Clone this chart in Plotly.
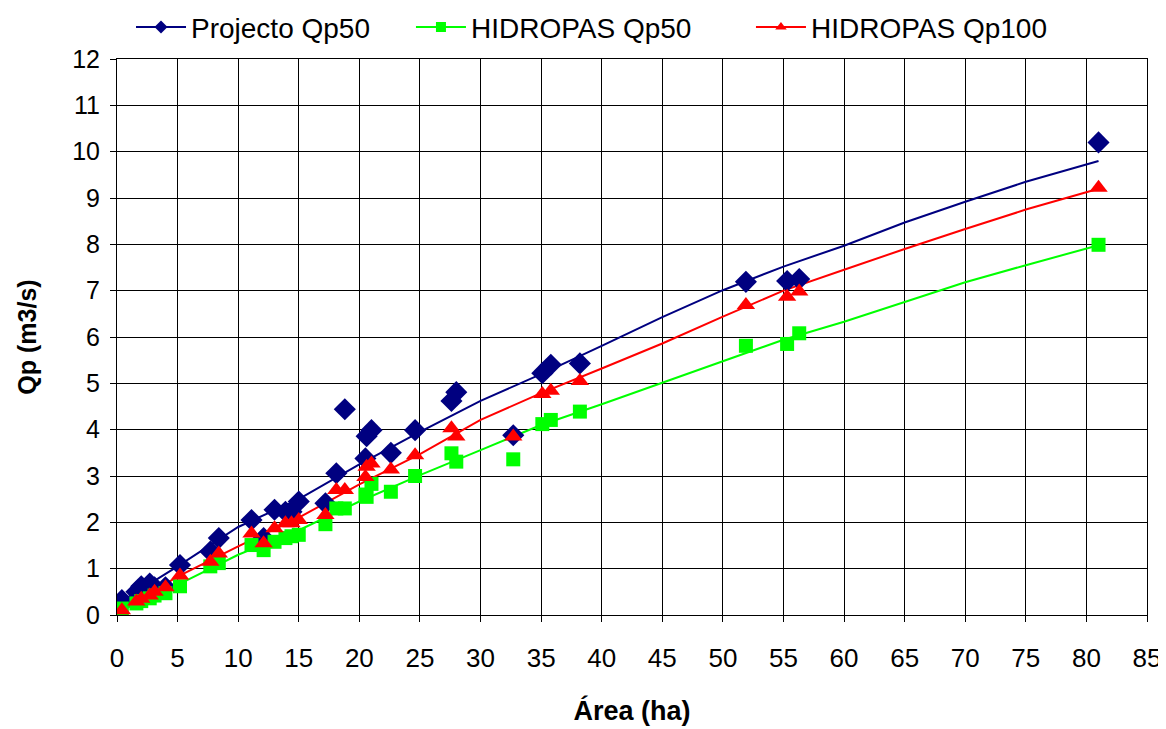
import plotly.graph_objects as go

# Catchment areas (ha) for the observed points
area = [0.4, 1.6, 2.0, 2.7, 3.1, 4.0, 5.2, 7.7, 8.4, 11.1, 12.1, 13.0, 13.9, 14.4, 15.0,
        17.2, 18.1, 18.8, 20.5, 20.6, 21.0, 22.6, 24.6, 27.6, 28.0, 32.7, 35.1, 35.8,
        38.2, 51.9, 55.3, 56.3, 81.0]

projecto_qp50 = [0.32, 0.50, 0.62, 0.68, 0.60, 0.60, 1.08, 1.37, 1.66, 2.05, 1.66, 2.27, 2.23,
                 2.23, 2.45, 2.41, 3.06, 4.44, 3.38, 3.86, 3.99, 3.50, 3.99, 4.62, 4.81, 3.88,
                 5.22, 5.40, 5.43, 7.19, 7.21, 7.25, 10.20]
hidropas_qp50 = [0.14, 0.25, 0.30, 0.36, 0.42, 0.47, 0.62, 1.05, 1.12, 1.51, 1.40, 1.58, 1.66,
                 1.70, 1.73, 1.96, 2.30, 2.30, 2.60, 2.55, 2.83, 2.66, 3.00, 3.49, 3.31, 3.36,
                 4.12, 4.21, 4.39, 5.81, 5.85, 6.08, 7.99]
hidropas_qp100 = [0.10, 0.29, 0.35, 0.42, 0.50, 0.60, 0.85, 1.15, 1.33, 1.76, 1.55, 1.87, 1.98,
                  1.98, 2.05, 2.16, 2.70, 2.70, 2.98, 3.20, 3.27, 3.14, 3.45, 4.03, 3.85, 3.85,
                  4.77, 4.84, 5.05, 6.69, 6.87, 6.98, 9.22]

# Fitted curves
curve_x = [0.4, 5, 10, 15, 20, 25, 30, 35, 40, 45, 50, 55, 60, 65, 70, 75, 81]
curve_projecto = [0.30, 1.05, 1.90, 2.50, 3.25, 3.95, 4.62, 5.20, 5.81, 6.43, 7.01, 7.52,
                  7.97, 8.47, 8.92, 9.35, 9.80]
curve_hid50 = [0.10, 0.65, 1.30, 1.83, 2.45, 3.02, 3.56, 4.10, 4.55, 5.01, 5.47, 5.94,
               6.33, 6.76, 7.18, 7.55, 7.98]
curve_hid100 = [0.10, 0.83, 1.48, 2.10, 2.82, 3.47, 4.21, 4.79, 5.32, 5.86, 6.44, 7.00,
                7.45, 7.90, 8.33, 8.75, 9.20]

series = [
    ("Projecto Qp50", projecto_qp50, curve_projecto, "#000080", "diamond", 17, "legend"),
    ("HIDROPAS Qp50", hidropas_qp50, curve_hid50, "#00FF00", "square", 14, "legend2"),
    ("HIDROPAS Qp100", hidropas_qp100, curve_hid100, "#FF0000", "triangle-up", 16, "legend3"),
]

fig = go.Figure()
for name, pts, curve, color, sym, size, lg in series:
    fig.add_trace(go.Scatter(x=curve_x, y=curve, mode="lines",
                             line=dict(color=color, width=2), showlegend=False,
                             hoverinfo="skip"))
for name, pts, curve, color, sym, size, lg in series:
    fig.add_trace(go.Scatter(x=area, y=pts, mode="markers", name=name,
                             marker=dict(symbol=sym, size=size, color=color),
                             showlegend=False))
for name, pts, curve, color, sym, size, lg in series:
    fig.add_trace(go.Scatter(x=[None], y=[None], mode="lines+markers", name=name,
                             legend=lg,
                             line=dict(color=color, width=2),
                             marker=dict(symbol=sym, size=10, color=color)))

fam = "Liberation Sans, Arial, sans-serif"


def leg(x):
    return dict(orientation="h", x=x, xanchor="left", y=1.012, yanchor="bottom",
                font=dict(family=fam, size=28), itemwidth=50,
                bgcolor="rgba(0,0,0,0)")


# the page body adds an 8 px offset; margins compensate for it
fig.update_layout(
    width=1166, height=729,
    paper_bgcolor="white", plot_bgcolor="white",
    margin=dict(l=109, r=27, t=51, b=122, autoexpand=False),
    font=dict(family=fam, color="black"),
    legend=leg(0.0136), legend2=leg(0.2854), legend3=leg(0.6155),
    xaxis=dict(range=[0, 85], tickmode="linear", tick0=0, dtick=5, automargin=False,
               showgrid=True, gridcolor="black", gridwidth=1,
               showline=True, linecolor="black", linewidth=1, mirror=True,
               ticks="outside", ticklen=6, tickcolor="black", zeroline=False,
               ticklabelstandoff=14,
               tickfont=dict(family=fam, size=26),
               title=dict(text="<b>Área (ha)</b>", font=dict(family=fam, size=27),
                          standoff=28)),
    yaxis=dict(range=[0, 12], tickmode="linear", tick0=0, dtick=1, automargin=False,
               showgrid=True, gridcolor="black", gridwidth=1,
               showline=True, linecolor="black", linewidth=1, mirror=True,
               ticks="outside", ticklen=6, tickcolor="black", zeroline=False,
               ticklabelstandoff=5,
               tickfont=dict(size=25),
               title=dict(text="<b>Qp (m3/s)</b>", font=dict(size=25), standoff=28)),
)

fig.write_html("out.html")
